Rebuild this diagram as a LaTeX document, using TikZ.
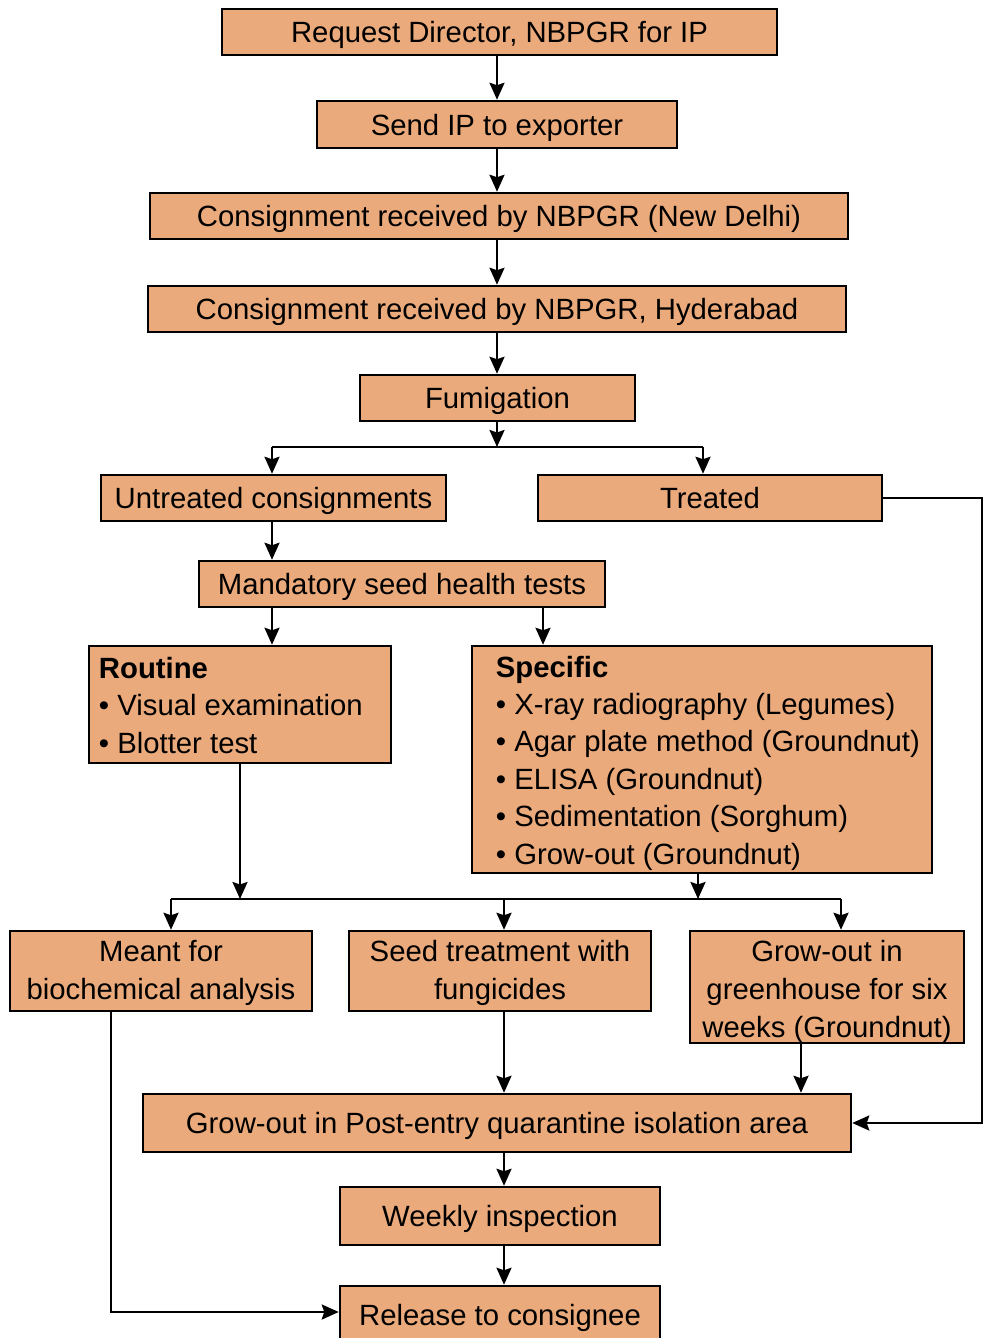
\documentclass[tikz,border=0pt]{standalone}
\usepackage{fontspec}
\setmainfont{Liberation Sans}
\usetikzlibrary{arrows.meta}
\definecolor{boxfill}{HTML}{EBAA7B}
\begin{document}
\begin{tikzpicture}[x=1pt,y=-1pt,
  box/.style={draw=black, line width=2.5pt, fill=boxfill, inner sep=0pt, font=\fontsize{29.3}{38}\selectfont},
  one/.style={text height=21pt, text depth=0pt},
  txt/.style={inner sep=0pt, font=\fontsize{29.3}{37.4}\selectfont},
  ctxt/.style={inner sep=0pt, align=center, font=\fontsize{29.3}{38}\selectfont},
  arr/.style={line width=2.4pt, -{Stealth[length=17pt,width=15pt,inset=2.5pt]}},
  ln/.style={line width=2.4pt}]
\useasboundingbox (0,0) rectangle (983,1338);

\node[box,one,minimum width=555,minimum height=46] (req) at (499.5,32) {Request Director, NBPGR for IP};
\node[box,one,minimum width=360,minimum height=47] (send) at (497,124.5) {Send IP to exporter};
\node[box,one,minimum width=698,minimum height=46] (cnd) at (499,216) {Consignment received by NBPGR (New Delhi)};
\node[box,one,minimum width=698,minimum height=46] (cnh) at (497,309) {Consignment received by NBPGR, Hyderabad};
\node[box,one,minimum width=275,minimum height=46] (fum) at (497.5,398) {Fumigation};
\node[box,one,minimum width=345,minimum height=46] (untr) at (273.5,498) {Untreated consignments};
\node[box,one,minimum width=344,minimum height=46] (trt) at (710,498) {Treated};
\node[box,one,minimum width=406,minimum height=46] (mand) at (402,584) {Mandatory seed health tests};

\node[box,minimum width=302,minimum height=117] (rout) at (240,704.5) {};
\node[txt,anchor=west,align=left] (routt) at ([xshift=11,yshift=-1]rout.west) {\textbf{Routine}\\• Visual examination\\• Blotter test};
\node[box,minimum width=460,minimum height=227] (spec) at (702,759.5) {};
\node[txt,anchor=west,align=left] (spect) at ([xshift=25,yshift=-3.5]spec.west) {\textbf{Specific}\\• X-ray radiography (Legumes)\\• Agar plate method (Groundnut)\\• ELISA (Groundnut)\\• Sedimentation (Sorghum)\\• Grow-out (Groundnut)};

\node[box,minimum width=302,minimum height=80] (meant) at (161,971) {};
\node[ctxt] (meantt) at ([yshift=-2]meant.center) {Meant for\\biochemical analysis};
\node[box,minimum width=302,minimum height=80] (seed) at (500,971) {};
\node[ctxt] (seedt) at ([yshift=-2]seed.center) {Seed treatment with\\fungicides};
\node[box,minimum width=274,minimum height=112] (green) at (827,987) {};
\node[ctxt] (greent) at ([yshift=-4.5]green.center) {Grow-out in\\greenhouse for six\\weeks (Groundnut)};

\node[box,one,minimum width=708,minimum height=58] (peq) at (497,1123) {Grow-out in Post-entry quarantine isolation area};
\node[box,one,minimum width=320,minimum height=58] (week) at (500,1216) {Weekly inspection};
\node[box,one,minimum width=320,minimum height=58] (rel) at (500,1315) {Release to consignee};

% connectors
\draw[arr] (send.north |- req.south) -- (send.north);
\draw[arr] (send.south) -- (send.south |- cnd.north);
\draw[arr] (send.south |- cnd.south) -- (send.south |- cnh.north);
\draw[arr] (cnh.south) -- (cnh.south |- fum.north);

\coordinate (j1) at (497,447);
\coordinate (j1l) at (272,447);
\coordinate (j1r) at (703,447);
\draw[arr] (j1 |- fum.south) -- (j1);
\draw[ln] (j1l) -- (j1r);
\draw[arr] (j1l) -- (j1l |- untr.north);
\draw[arr] (j1r) -- (j1r |- trt.north);
\draw[arr] (j1l |- untr.south) -- (j1l |- mand.north);
\draw[arr] (j1l |- mand.south) -- (j1l |- rout.north);
\coordinate (m2) at (543,607);
\draw[arr] (m2 |- mand.south) -- (m2 |- spec.north);

\coordinate (j2) at (698,899);
\coordinate (j2l) at (171,899);
\coordinate (j2m) at (504,899);
\coordinate (j2r) at (841,899);
\draw[arr] (rout.south) -- (rout.south |- j2);
\draw[arr] (j2 |- spec.south) -- (j2);
\draw[ln] (j2l) -- (j2r);
\draw[arr] (j2l) -- (j2l |- meant.north);
\draw[arr] (j2m) -- (j2m |- seed.north);
\draw[arr] (j2r) -- (j2r |- green.north);

\draw[arr] (j2m |- seed.south) -- (j2m |- peq.north);
\coordinate (g) at (801,1060);
\draw[arr] (g |- green.south) -- (g |- peq.north);
\draw[arr] (j2m |- peq.south) -- (j2m |- week.north);
\draw[arr] (j2m |- week.south) -- (j2m |- rel.north);

\coordinate (k) at (111,1312);
\draw[arr] (k |- meant.south) -- (k) -- (k -| rel.west);
\coordinate (r) at (982,498);
\draw[arr] (trt.east) -- (r) -- (r |- peq.east) -- (peq.east);
\end{tikzpicture}
\end{document}
